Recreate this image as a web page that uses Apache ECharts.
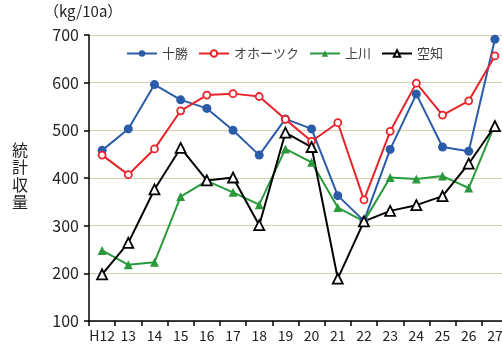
<!DOCTYPE html>
<html>
<head>
<meta charset="utf-8">
<script src="https://cdn.jsdelivr.net/npm/echarts@6/dist/echarts.min.js"></script>
<style>
  html, body { margin: 0; padding: 0; background: #fff; overflow: hidden; }
  #chart { width: 502px; height: 345px; }
</style>
</head>
<body>
<div id="chart"></div>
<script>
// 年次（平成）
var years = ['H12', '13', '14', '15', '16', '17', '18', '19', '20', '21', '22', '23', '24', '25', '26', '27'];

// 地域別 統計収量 (kg/10a)
var tokachi = [458, 503, 596, 564, 546, 500, 448, 524, 503, 363, 310, 460, 576, 465, 456, 691];
var okhotsk = [448, 407, 461, 541, 574, 577, 571, 523, 477, 516, 354, 498, 599, 532, 562, 656];
var kamikawa = [248, 218, 223, 361, 394, 370, 344, 461, 433, 338, 309, 401, 398, 404, 379, 512];
var sorachi = [198, 264, 376, 463, 395, 401, 301, 495, 465, 189, 309, 331, 343, 362, 430, 509];

var yTicks = { min: 100, max: 700, interval: 100 };

var FONT = '"Noto Sans CJK JP", "Noto Sans", sans-serif';

var chart = echarts.init(document.getElementById('chart'));

function line(name, data, color, symbol, size, hollow) {
  return {
    name: name,
    type: 'line',
    data: data,
    symbol: symbol,
    symbolSize: size,
    showAllSymbol: true,
    lineStyle: { color: color, width: 2 },
    itemStyle: hollow
      ? { color: '#ffffff', borderColor: color, borderWidth: 1.8 }
      : { color: color, borderColor: color, borderWidth: 0 },
    emphasis: { disabled: true },
    animation: false
  };
}

chart.setOption({
  animation: false,
  textStyle: { fontFamily: FONT },
  // the plot runs a few pixels past the right edge of the canvas
  grid: { left: 89, width: 419, top: 35, bottom: 24, containLabel: false, outerBoundsMode: 'none' },
  graphic: [
    {
      type: 'text', left: 44, top: 4,
      style: { text: '（kg/10a）', font: '15px ' + FONT, fill: '#222' }
    },
    {
      type: 'text', left: 12, top: 141,
      style: { text: '統\n計\n収\n量', font: '16px ' + FONT, fill: '#222', lineHeight: 17.5 }
    }
  ],
  legend: {
    top: 42, left: 121,
    itemWidth: 30, itemHeight: 8, itemGap: 10,
    textStyle: { fontSize: 13, color: '#404040', fontFamily: FONT },
    data: ['十勝', 'オホーツク', '上川', '空知']
  },
  xAxis: {
    type: 'category',
    data: years,
    boundaryGap: true,
    axisLine: { lineStyle: { color: '#000', width: 1.5 } },
    axisTick: { show: true, interval: 0, length: 5, lineStyle: { color: '#000', width: 1.5 } },
    axisLabel: { interval: 0, fontSize: 14, color: '#222', margin: 8, fontFamily: FONT },
    splitLine: { show: false }
  },
  yAxis: {
    type: 'value',
    min: yTicks.min, max: yTicks.max, interval: yTicks.interval,
    axisLine: { show: true, lineStyle: { color: '#000', width: 1.5 } },
    axisTick: { show: true, length: 5, lineStyle: { color: '#000', width: 1.5 } },
    axisLabel: { fontSize: 16, color: '#222', margin: 10, fontFamily: FONT },
    splitLine: { show: true, lineStyle: { color: '#d6cfb0', width: 1 } }
  },
  series: [
    line('十勝', tokachi, '#2a5caa', 'circle', 9, false),
    line('オホーツク', okhotsk, '#e8242a', 'circle', 7, true),
    line('上川', kamikawa, '#2a9a3c', 'triangle', 9, false),
    line('空知', sorachi, '#000000', 'triangle', 10, true)
  ]
});
</script>
</body>
</html>
